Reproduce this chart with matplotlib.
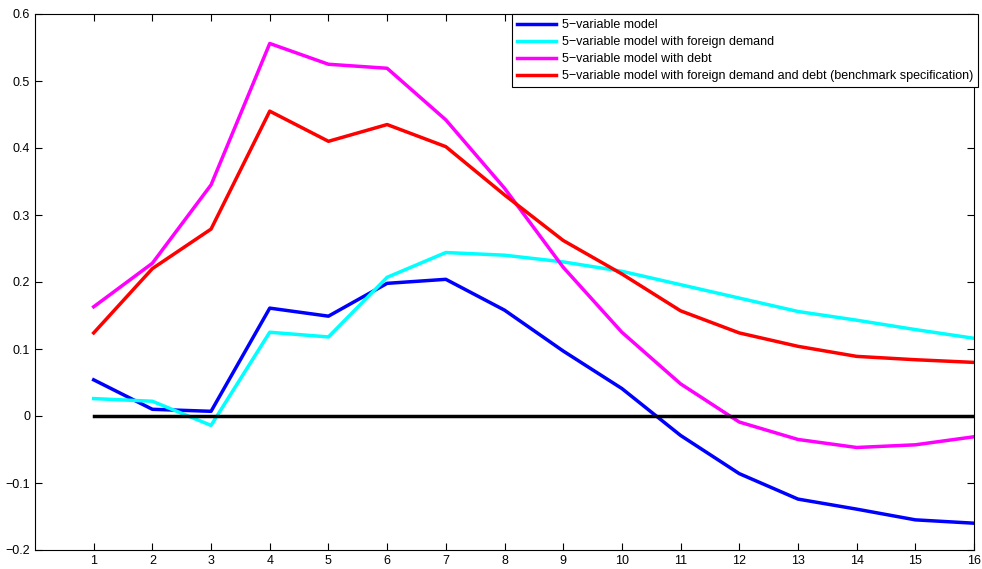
import matplotlib
matplotlib.use("Agg")
import matplotlib.pyplot as plt

plt.rcParams['font.family'] = ['Liberation Sans', 'DejaVu Sans']

horizons = list(range(1, 17))
five_var = [0.054, 0.010, 0.007, 0.161, 0.149, 0.198, 0.204, 0.158, 0.097, 0.041,
            -0.029, -0.086, -0.124, -0.139, -0.155, -0.160]
five_var_fd = [0.026, 0.022, -0.014, 0.125, 0.118, 0.207, 0.244, 0.240, 0.230, 0.216,
               0.196, 0.176, 0.156, 0.143, 0.129, 0.116]
five_var_debt = [0.163, 0.228, 0.345, 0.556, 0.525, 0.519, 0.442, 0.340, 0.222, 0.125,
                 0.048, -0.009, -0.035, -0.047, -0.043, -0.031]
five_var_fd_debt = [0.124, 0.220, 0.279, 0.455, 0.410, 0.435, 0.402, 0.330, 0.262, 0.212,
                    0.157, 0.124, 0.104, 0.089, 0.084, 0.080]
zero_line = [0.0] * 16

labels = ["5\u2212variable model",
          "5\u2212variable model with foreign demand",
          "5\u2212variable model with debt",
          "5\u2212variable model with foreign demand and debt (benchmark specification)"]
colors = ["#0000ff", "#00ffff", "#ff00ff", "#ff0000"]

fig = plt.figure(figsize=(9.82, 5.69), dpi=100)
ax = fig.add_axes([35/982, 19/569, 939/982, 536/569])

for series, lab, c in zip([five_var, five_var_fd, five_var_debt, five_var_fd_debt], labels, colors):
    ax.plot(horizons, series, color=c, lw=2.5, label=lab)
ax.plot(horizons, zero_line, color='black', lw=2.5)

ax.set_xlim(0, 16)
ax.set_ylim(-0.2, 0.6)
ax.set_xticks(horizons)
ax.set_yticks([-0.2, -0.1, 0, 0.1, 0.2, 0.3, 0.4, 0.5, 0.6])
ax.set_yticklabels(["\u22120.2", "\u22120.1", "0", "0.1", "0.2", "0.3", "0.4", "0.5", "0.6"])
ax.tick_params(direction='in', top=True, right=True, labelsize=9, length=5, width=0.8)
for s in ax.spines.values():
    s.set_linewidth(0.8)

leg = ax.legend(loc='upper right', bbox_to_anchor=(978/982, 1 - 14/569),
                bbox_transform=fig.transFigure, fontsize=9, frameon=True,
                fancybox=False, framealpha=1.0, handlelength=3.1, handletextpad=0.5,
                borderpad=0.4, labelspacing=0.4, borderaxespad=0)
leg.get_frame().set_edgecolor('black')
leg.get_frame().set_linewidth(0.8)
leg.set_zorder(10)

fig.savefig("out.png", dpi=100)
